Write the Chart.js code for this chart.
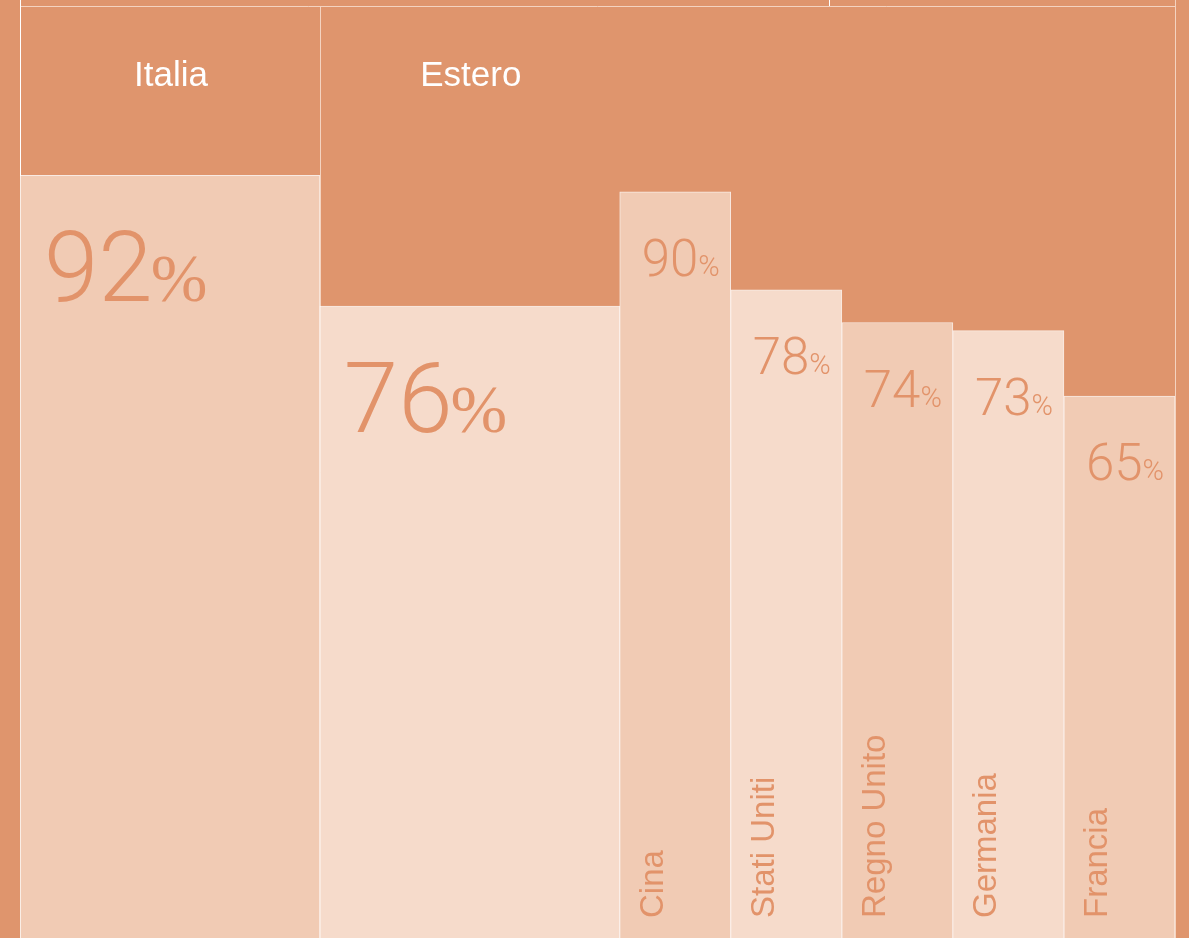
<!DOCTYPE html>
<html>
<head>
<meta charset="utf-8">
<script src="https://cdn.jsdelivr.net/npm/chart.js@4/dist/chart.umd.min.js"></script>
<style>
  html, body { margin: 0; padding: 0; background: #DF956D; overflow: hidden; }
  canvas { display: block; }
</style>
</head>
<body>
<canvas id="chart" width="1189" height="938"></canvas>
<script>
// data
const groups = ['Italia', 'Estero'];
const groupValues = [92, 76];
const countries = ['Cina', 'Stati Uniti', 'Regno Unito', 'Germania', 'Francia'];
const countryValues = [90, 78, 74, 73, 65];

// layout (column widths in units, big column vs country column)
const BIG = 27, SMALL = 10;
const W = 1189, H = 938;
const PAD = { left: 20, right: 14, top: 7, bottom: 0 };
const totalUnits = BIG * groups.length + SMALL * countries.length;
const unitPx = (W - PAD.left - PAD.right) / totalUnits;

const TEXT = '#E2936A';
const SHADE_A = '#F1CBB4';
const SHADE_B = '#F6DBCB';
const NUM_FONT = 'Roboto, "Liberation Sans", sans-serif';

const groupPoints = groupValues.map((v, i) => ({ x: BIG * i + BIG / 2, y: v }));
const countryPoints = countryValues.map((v, i) => ({ x: BIG * groups.length + SMALL * i + SMALL / 2, y: v }));

const Y_MIN = -1.3, Y_MAX = 112.6;

const headerPlugin = {
    id: 'header',
    beforeDatasetsDraw(chart) {
        const ctx = chart.ctx;
        const x = chart.scales.x;
        const area = chart.chartArea;
        ctx.save();
        ctx.lineWidth = 1;
        ctx.strokeStyle = '#F4D3C0';
        ctx.beginPath();
        ctx.moveTo(area.left, area.top - 0.5);
        ctx.lineTo(area.right, area.top - 0.5);
        ctx.stroke();
        ctx.beginPath();
        const split = Math.round(x.getPixelForValue(BIG)) + 0.5;
        ctx.moveTo(split, area.top);
        ctx.lineTo(split, area.bottom);
        ctx.moveTo(Math.round(area.right) + 0.5, 0);
        ctx.lineTo(Math.round(area.right) + 0.5, area.bottom);
        ctx.stroke();
        ctx.strokeStyle = '#FFFFFF';
        ctx.beginPath();
        ctx.moveTo(Math.round(area.left) + 0.5, 0);
        ctx.lineTo(Math.round(area.left) + 0.5, area.bottom);
        const tick = Math.round(x.getPixelForValue(72.85)) + 0.5;
        ctx.moveTo(tick, 0);
        ctx.lineTo(tick, area.top - 1);
        ctx.stroke();
        // group names
        ctx.fillStyle = '#FFFFFF';
        ctx.font = '35px "Liberation Sans", Arial, sans-serif';
        ctx.textAlign = 'center';
        ctx.textBaseline = 'alphabetic';
        groups.forEach((g, i) => {
            ctx.fillText(g, x.getPixelForValue(BIG * i + BIG / 2) + 1, area.top + 79);
        });
        ctx.restore();
    }
};

const labelPlugin = {
    id: 'barLabels',
    afterDatasetsDraw(chart) {
        const ctx = chart.ctx;
        ctx.save();
        ctx.fillStyle = TEXT;
        ctx.textBaseline = 'alphabetic';
        ctx.textAlign = 'left';

        // big percentages
        chart.getDatasetMeta(0).data.forEach((bar, i) => {
            const left = bar.x - bar.width / 2 + 24;
            const base = bar.y + 126;
            ctx.font = '300 98px ' + NUM_FONT;
            const num = String(groupValues[i]);
            ctx.fillText(num, left, base);
            const w = ctx.measureText(num).width;
            ctx.font = '68px "Liberation Serif", serif';
            ctx.fillText('%', left + w - 2, base);
        });

        // country percentages and names
        chart.getDatasetMeta(1).data.forEach((bar, i) => {
            const left = bar.x - bar.width / 2 + 22;
            const base = bar.y + 84;
            ctx.font = '300 51px ' + NUM_FONT;
            const num = String(countryValues[i]);
            ctx.fillText(num, left, base);
            const w = ctx.measureText(num).width;
            ctx.font = '300 29px ' + NUM_FONT;
            ctx.fillText('%', left + w, base);

            ctx.save();
            ctx.translate(bar.x - bar.width / 2 + 43, chart.chartArea.bottom - 20);
            ctx.rotate(-Math.PI / 2);
            ctx.font = '33px "Liberation Sans", Arial, sans-serif';
            ctx.fillText(countries[i], 0, 0);
            ctx.restore();
        });
        ctx.restore();
    }
};

new Chart(document.getElementById('chart'), {
    type: 'bar',
    data: {
        datasets: [{
            label: 'Gruppi',
            data: groupPoints,
            backgroundColor: groupValues.map((v, i) => i % 2 === 0 ? SHADE_A : SHADE_B),
            borderColor: 'rgba(255,255,255,0.8)',
            borderWidth: { top: 1, left: 1, right: 1, bottom: 0 },
            borderSkipped: 'bottom',
            barThickness: BIG * unitPx,
            grouped: false,
            base: Y_MIN
        }, {
            label: 'Paesi',
            data: countryPoints,
            backgroundColor: countryValues.map((v, i) => i % 2 === 0 ? SHADE_A : SHADE_B),
            borderColor: 'rgba(255,255,255,0.8)',
            borderWidth: { top: 1, left: 1, right: 1, bottom: 0 },
            borderSkipped: 'bottom',
            barThickness: SMALL * unitPx,
            grouped: false,
            base: Y_MIN
        }]
    },
    options: {
        responsive: false,
        animation: false,
        layout: { padding: PAD },
        plugins: {
            legend: { display: false },
            tooltip: { enabled: false }
        },
        scales: {
            x: { type: 'linear', min: 0, max: totalUnits, offset: false, display: false },
            y: { min: Y_MIN, max: Y_MAX, display: false }
        }
    },
    plugins: [headerPlugin, labelPlugin]
});
</script>
</body>
</html>
